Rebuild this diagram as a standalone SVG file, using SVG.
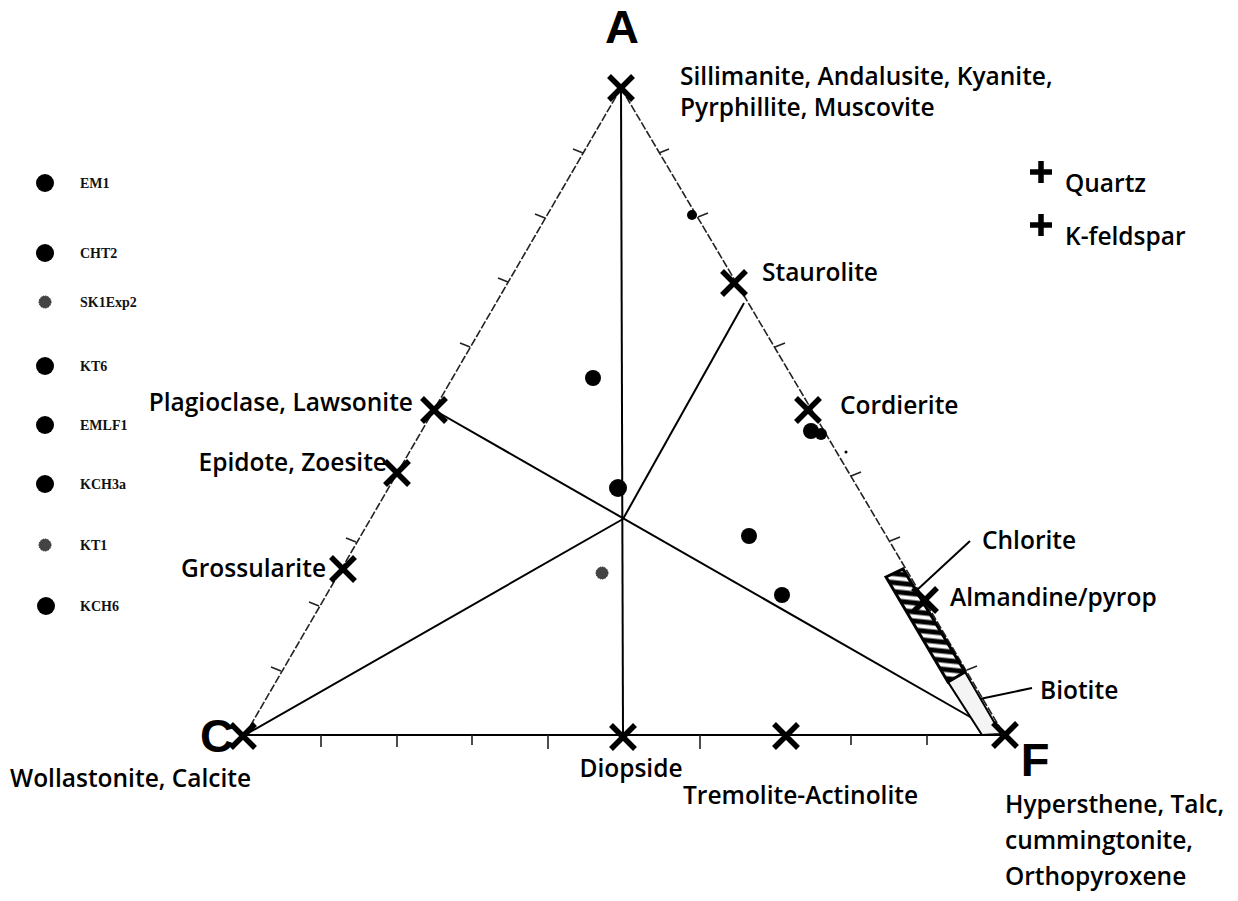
<svg xmlns="http://www.w3.org/2000/svg" width="1238" height="901" viewBox="0 0 1238 901">
<defs>
<style>
.lbl{font-family:"Open Sans","Liberation Sans",sans-serif;font-size:24.5px;font-weight:600;fill:#000}
.big{font-family:"Liberation Sans","Open Sans",sans-serif;font-size:47px;font-weight:bold;fill:#000}
.leg{font-family:"Liberation Serif",serif;font-size:14px;font-weight:bold;fill:#111}
.edge{stroke:#222;stroke-width:1.6;fill:none;stroke-dasharray:8 2}
.ln{stroke:#000;stroke-width:2;fill:none}
.tick{stroke:#222;stroke-width:1.6;fill:none}
.xm{stroke:#000;stroke-width:5.5;stroke-linecap:butt;fill:none}
.dot{fill:#000}
.gdot{fill:#444;stroke:#222;stroke-width:1;stroke-dasharray:1.5 1}
</style>
<path id="X" d="M-12,-12 L12,12 M12,-12 L-12,12"/>
<pattern id="hatch" patternUnits="userSpaceOnUse" width="30" height="9" patternTransform="rotate(6)">
<rect width="30" height="9" fill="#000"/>
<rect y="2.5" width="30" height="4" fill="#fff"/>
</pattern>
</defs>
<rect width="1238" height="901" fill="#fff"/>

<g id="connectors">
<line class="edge" x1="621" y1="88" x2="245" y2="735"/>
<line class="edge" x1="621" y1="88" x2="1003" y2="733"/>
<line class="ln" x1="243" y1="735" x2="1003" y2="735"/>
<line class="ln" x1="621" y1="88" x2="623" y2="735"/>
<line class="ln" x1="434" y1="410" x2="972" y2="718"/>
<line class="ln" x1="245" y1="735" x2="623" y2="519"/>
<line class="ln" x1="623" y1="519" x2="744" y2="303"/>
<line class="ln" x1="970" y1="541" x2="917" y2="590" stroke-width="1.8"/>
<line class="ln" x1="1032" y1="688" x2="975" y2="700" stroke-width="1.8"/>
</g>

<g id="ticks">
<path class="tick" d="M583,153 l-10,-4 M545,218 l-10,-4 M508,282 l-10,-4 M470,347 l-10,-4 M356,542 l-10,-4 M319,606 l-10,-4 M281,671 l-10,-4"/>
<path class="tick" d="M659,153 l10,-4 M698,217 l10,-4 M775,347 l10,-4 M851,476 l10,-4 M890,541 l10,-4 M967,670 l10,-4"/>
<path class="tick" d="M321,735 v12 M397,735 v12 M472,735 v10 M548,735 v14 M700,735 v14 M851,735 v10 M927,735 v10"/>
</g>

<g id="band">
<polygon points="948,682 965,672 1001,734 982,735" fill="#f4f4f4" stroke="#000" stroke-width="2"/>
<polygon points="886,577 903,569 965,672 948,682" fill="url(#hatch)" stroke="#000" stroke-width="3"/>
</g>

<g id="node-A"><text class="big" x="622" y="43" text-anchor="middle">A</text><use href="#X" class="xm" x="621" y="88"/></g>
<g id="node-C"><text class="big" x="217" y="752" text-anchor="middle">C</text><use href="#X" class="xm" x="243" y="736"/></g>
<g id="node-F"><text class="big" x="1035" y="776" text-anchor="middle">F</text><use href="#X" class="xm" x="1005" y="735"/></g>

<g id="node-sillimanite"><text class="lbl" x="680" y="85">Sillimanite, Andalusite, Kyanite,</text><text class="lbl" x="680" y="116">Pyrphillite, Muscovite</text></g>
<g id="node-staurolite"><use href="#X" class="xm" x="734" y="283"/><text class="lbl" x="762" y="281">Staurolite</text></g>
<g id="node-cordierite"><use href="#X" class="xm" x="808" y="410"/><text class="lbl" x="840" y="414">Cordierite</text></g>
<g id="node-plagioclase"><use href="#X" class="xm" x="434" y="410"/><text class="lbl" x="413" y="411" text-anchor="end">Plagioclase, Lawsonite</text></g>
<g id="node-epidote"><use href="#X" class="xm" x="397" y="473"/><text class="lbl" x="387" y="471" text-anchor="end">Epidote, Zoesite</text></g>
<g id="node-grossularite"><use href="#X" class="xm" x="343" y="569"/><text class="lbl" x="326" y="577" text-anchor="end">Grossularite</text></g>
<g id="node-chlorite"><text class="lbl" x="982" y="549">Chlorite</text></g>
<g id="node-almandine"><use href="#X" class="xm" x="925" y="600"/><text class="lbl" x="950" y="606">Almandine/pyrop</text></g>
<g id="node-biotite"><text class="lbl" x="1040" y="699">Biotite</text></g>
<g id="node-wollastonite"><text class="lbl" x="10" y="787">Wollastonite, Calcite</text></g>
<g id="node-diopside"><use href="#X" class="xm" x="623" y="737"/><text class="lbl" x="631" y="777" text-anchor="middle">Diopside</text></g>
<g id="node-tremolite"><use href="#X" class="xm" x="786" y="736"/><text class="lbl" x="683" y="804">Tremolite-Actinolite</text></g>
<g id="node-hypersthene"><text class="lbl" x="1005" y="813">Hypersthene, Talc,</text><text class="lbl" x="1005" y="849">cummingtonite,</text><text class="lbl" x="1005" y="885">Orthopyroxene</text></g>

<g id="node-quartz"><path class="xm" d="M1030,172 h22 M1041,161 v22" stroke-width="5"/><text class="lbl" x="1065" y="192">Quartz</text></g>
<g id="node-kfeldspar"><path class="xm" d="M1030,225 h22 M1041,214 v22" stroke-width="5"/><text class="lbl" x="1065" y="245">K-feldspar</text></g>

<g id="samples">
<circle class="dot" cx="692" cy="215" r="5"/>
<circle class="dot" cx="593" cy="378" r="8"/>
<circle class="dot" cx="618" cy="488" r="9"/>
<circle class="gdot" cx="602" cy="573" r="6"/>
<circle class="dot" cx="749" cy="536" r="8"/>
<circle class="dot" cx="782" cy="595" r="8"/>
<circle class="dot" cx="811" cy="431" r="8"/>
<circle class="dot" cx="821" cy="434" r="6"/>
<circle class="dot" cx="846" cy="452" r="1.5"/>
</g>

<g id="legend">
<circle class="dot" cx="45" cy="183" r="9"/><text class="leg" x="80" y="188">EM1</text>
<circle class="dot" cx="45" cy="253" r="9"/><text class="leg" x="80" y="258">CHT2</text>
<circle class="gdot" cx="45" cy="302" r="6"/><text class="leg" x="80" y="307">SK1Exp2</text>
<circle class="dot" cx="45" cy="366" r="9"/><text class="leg" x="80" y="371">KT6</text>
<circle class="dot" cx="45" cy="425" r="9"/><text class="leg" x="80" y="430">EMLF1</text>
<circle class="dot" cx="45" cy="484" r="9"/><text class="leg" x="80" y="489">KCH3a</text>
<circle class="gdot" cx="45" cy="545" r="6"/><text class="leg" x="80" y="550">KT1</text>
<circle class="dot" cx="46" cy="606" r="9"/><text class="leg" x="80" y="611">KCH6</text>
</g>
</svg>
